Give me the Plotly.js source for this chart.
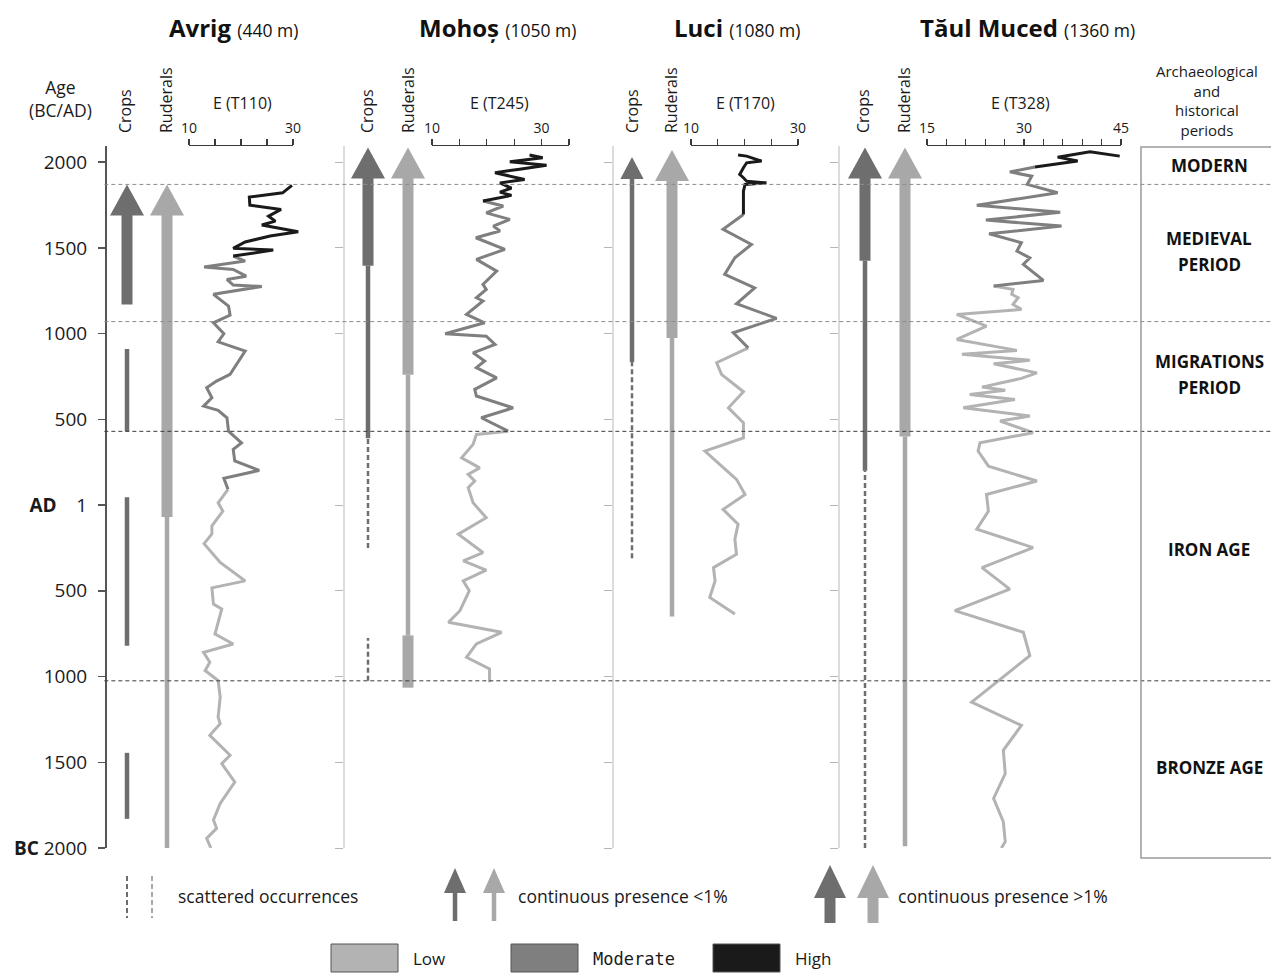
<!DOCTYPE html>
<html><head><meta charset="utf-8">
<script src="https://cdn.plot.ly/plotly-3.0.1.min.js"></script>
<style>html,body{margin:0;padding:0;background:#fff}#chart{width:1271px;height:973px}</style>
</head><body><div id="chart"></div>
<script>
// ================= DATA =================
const siteNames = ['Avrig', 'Mohoș', 'Luci', 'Tăul Muced'];
const siteAltitudes = ['(440 m)', '(1050 m)', '(1080 m)', '(1360 m)'];
const eAxisTitles = ['E (T110)', 'E (T245)', 'E (T170)', 'E (T328)'];
const eScaleRanges = [[10, 30], [10, 35], [10, 30], [15, 45]];
const eScaleSteps = [5, 5, 5, 3];
const eScaleLabels = [[10, 30], [10, 30], [10, 30], [15, 30, 45]];
const columnNames = ['Crops', 'Ruderals'];

const ageTickVals = [-2000, -1500, -1000, -500, 0, 500, 1000, 1500, 2000];
const ageTickText = ['<b>BC</b> 2000', '1500', '1000', '500', '<b>AD</b>\u00a0\u00a0\u00a0\u00a01', '500', '1000', '1500', '2000'];
const periodBoundaries = [1870, 1070, 430, -1025];
const periodNames = [['MODERN'], ['MEDIEVAL', 'PERIOD'], ['MIGRATIONS', 'PERIOD'], ['IRON AGE'], ['BRONZE AGE']];
const levelNames = ['Low', 'Moderate', 'High'];

// ---- Avrig E (T110) ----
const avrigHighAge = [1864, 1821, 1796, 1749, 1724, 1685, 1656, 1633, 1594, 1569, 1534, 1497, 1487, 1452];
const avrigHighE   = [29.8, 28.0, 21.6, 21.7, 27.7, 25.3, 26.6, 24.0, 31.0, 25.6, 20.8, 18.5, 26.2, 18.5];
const avrigModAge = [1452, 1423, 1388, 1374, 1335, 1316, 1283, 1275, 1229, 1160, 1108, 1063, 999, 952, 898, 762, 723, 684, 626, 577, 552, 509, 431, 363, 325, 257, 202, 156, 92];
const avrigModE   = [18.5, 20.8, 12.9, 18.5, 21.0, 17.3, 18.5, 24.0, 14.7, 17.6, 17.9, 14.7, 16.7, 15.6, 20.8, 17.9, 15.3, 13.4, 14.4, 12.8, 15.6, 17.3, 17.6, 20.1, 18.5, 18.8, 23.5, 16.7, 17.5];
const avrigLowAge = [92, 13, -35, -122, -169, -225, -335, -442, -483, -577, -606, -694, -752, -810, -859, -917, -965, -1023, -1120, -1237, -1275, -1343, -1459, -1508, -1615, -1740, -1837, -1885, -1944, -2000];
const avrigLowE   = [17.5, 15.6, 16.5, 14.4, 14.4, 12.9, 16.0, 20.8, 14.4, 14.7, 16.3, 15.6, 15.0, 18.5, 12.8, 14.0, 13.1, 15.6, 16.0, 15.6, 16.0, 14.0, 17.9, 16.3, 18.8, 16.0, 14.7, 15.3, 13.4, 14.2];

// ---- Mohoș E (T245) ----
const mohosHighAge = [2041, 2025, 2002, 1982, 1959, 1938, 1899, 1879, 1848, 1825, 1806, 1773];
const mohosHighE   = [27.8, 30.2, 24.2, 30.9, 26.0, 21.5, 26.9, 22.4, 24.5, 22.4, 24.5, 19.3];
const mohosModAge = [1773, 1744, 1704, 1666, 1627, 1598, 1559, 1491, 1433, 1364, 1287, 1258, 1209, 1190, 1112, 1063, 999, 985, 937, 888, 840, 801, 742, 675, 636, 567, 509, 431];
const mohosModE   = [19.3, 23.0, 19.9, 24.2, 21.2, 22.4, 18.0, 23.3, 18.1, 21.8, 19.3, 19.9, 18.1, 19.3, 16.3, 19.6, 12.4, 19.9, 21.5, 17.5, 19.6, 18.1, 21.8, 17.8, 18.1, 24.8, 19.0, 23.9];
const mohosLowAge = [431, 412, 354, 276, 217, 179, 140, 101, 13, -74, -170, -277, -326, -380, -442, -500, -616, -684, -742, -810, -888, -955, -1033];
const mohosLowE   = [23.9, 18.1, 17.5, 15.4, 18.7, 16.6, 17.8, 16.6, 17.5, 19.9, 14.8, 19.3, 15.7, 19.9, 15.7, 16.8, 15.1, 13.0, 22.7, 18.1, 16.3, 20.5, 20.5];

// ---- Luci E (T170) ----
const luciHighAge = [2041, 2035, 2006, 1996, 1967, 1928, 1909, 1889, 1879, 1870, 1831, 1695];
const luciHighE   = [18.8, 20.4, 23.2, 20.4, 19.8, 19.1, 19.8, 20.4, 24.1, 20.1, 19.8, 19.8];
const luciModAge = [1695, 1608, 1520, 1442, 1345, 1267, 1174, 1089, 1005, 917];
const luciModE   = [19.8, 16.0, 21.3, 18.2, 16.3, 21.9, 18.5, 26.0, 17.9, 20.7];
const luciLowAge = [917, 830, 762, 661, 567, 480, 392, 315, 150, 62, -25, -112, -199, -287, -365, -442, -539, -636];
const luciLowE   = [20.7, 14.8, 15.7, 19.8, 17.0, 19.8, 19.8, 12.6, 18.5, 20.1, 16.0, 18.8, 18.2, 18.5, 14.2, 14.5, 13.5, 18.2];

// ---- Tăul Muced E (T328) ----
const taulHighAge = [2035, 2061, 2029, 2006, 1971];
const taulHighE   = [44.8, 40.2, 35.2, 38.3, 31.7];
const taulModAge = [1971, 1943, 1918, 1870, 1821, 1749, 1708, 1662, 1627, 1582, 1530, 1481, 1442, 1404, 1310, 1277];
const taulModE   = [31.7, 27.8, 31.2, 30.5, 35.2, 22.7, 35.6, 24.1, 35.8, 24.6, 29.6, 28.9, 30.9, 29.9, 33.0, 25.3];
const taulLowAge = [1277, 1258, 1229, 1209, 1170, 1141, 1112, 1044, 966, 902, 879, 844, 824, 771, 739, 688, 669, 645, 616, 567, 519, 490, 422, 363, 315, 227, 140, 62, -35, -141, -248, -365, -490, -616, -742, -878, -1149, -1285, -1430, -1566, -1711, -1847, -1963, -2000];
const taulLowE   = [25.3, 28.3, 28.1, 29.1, 28.3, 29.6, 19.6, 24.2, 19.6, 28.9, 20.4, 30.9, 25.3, 32.0, 29.6, 23.5, 27.1, 21.6, 28.6, 20.6, 30.9, 26.3, 31.4, 23.2, 22.9, 24.5, 32.0, 24.2, 24.5, 22.7, 31.4, 23.5, 27.8, 19.3, 29.9, 30.9, 21.9, 29.6, 26.8, 27.1, 25.3, 26.8, 27.1, 26.5];

// ---- Crops / Ruderals presence, [from, to] in years (AD +, BC -) ----
const avrigCropsOver1 = [[1170, 1870]];
const avrigCropsUnder1 = [[430, 910], [-820, 45], [-1830, -1445]];
const avrigCropsScattered = [];
const avrigRuderalsOver1 = [[-70, 1870]];
const avrigRuderalsUnder1 = [[-2000, -70]];
const avrigRuderalsScattered = [];

const mohosCropsOver1 = [[1395, 2085]];
const mohosCropsUnder1 = [[390, 1395]];
const mohosCropsScattered = [[-250, 390], [-1025, -775]];
const mohosRuderalsOver1 = [[760, 2085], [-1065, -760]];
const mohosRuderalsUnder1 = [[-760, 760]];
const mohosRuderalsScattered = [];

const luciCropsOver1 = [];
const luciCropsUnder1 = [[835, 2030]];
const luciCropsScattered = [[-310, 835]];
const luciRuderalsOver1 = [[975, 2070]];
const luciRuderalsUnder1 = [[-650, 975]];
const luciRuderalsScattered = [];

const taulCropsOver1 = [[1425, 2085]];
const taulCropsUnder1 = [[200, 1425]];
const taulCropsScattered = [[-2000, 200]];
const taulRuderalsOver1 = [[400, 2085]];
const taulRuderalsUnder1 = [[-1990, 400]];
const taulRuderalsScattered = [];

// ================= BUILD =================
const siteE = [
  {low: [avrigLowAge, avrigLowE], mod: [avrigModAge, avrigModE], high: [avrigHighAge, avrigHighE]},
  {low: [mohosLowAge, mohosLowE], mod: [mohosModAge, mohosModE], high: [mohosHighAge, mohosHighE]},
  {low: [luciLowAge, luciLowE], mod: [luciModAge, luciModE], high: [luciHighAge, luciHighE]},
  {low: [taulLowAge, taulLowE], mod: [taulModAge, taulModE], high: [taulHighAge, taulHighE]}
];
const sitePresence = [
  [[avrigCropsOver1, avrigCropsUnder1, avrigCropsScattered], [avrigRuderalsOver1, avrigRuderalsUnder1, avrigRuderalsScattered]],
  [[mohosCropsOver1, mohosCropsUnder1, mohosCropsScattered], [mohosRuderalsOver1, mohosRuderalsUnder1, mohosRuderalsScattered]],
  [[luciCropsOver1, luciCropsUnder1, luciCropsScattered], [luciRuderalsOver1, luciRuderalsUnder1, luciRuderalsScattered]],
  [[taulCropsOver1, taulCropsUnder1, taulCropsScattered], [taulRuderalsOver1, taulRuderalsUnder1, taulRuderalsScattered]]
];

// ---- layout geometry (pixels) ----
const FONT = '"Open Sans", "Noto Sans", sans-serif';
const L = 102, R = 1271, T = 146, B = 848;
const PW = R - L, PH = B - T;
const X = px => (px - L) / PW;
const Y = py => (B - py) / PH;
const yRange = [-2000, 2094];
const yrPerPx = (yRange[1] - yRange[0]) / PH;

const cropPx = [127, 368, 632, 865];
const colGap = 40;
const scalePx = [[189, 293], [432, 569], [691, 798], [927, 1121]];
const sepPx = [343, 612, 838];
const titlePx = [233, 497, 737, 1027];
const eLabelPx = [242, 499, 745, 1020];
const colLabelPx = [[125, 166], [367, 408], [632, 671], [863, 904]];

const colColors = ['#6e6e6e', '#a8a8a8'];
const levelColors = {low: '#b3b3b3', mod: '#7f7f7f', high: '#1a1a1a'};
const styleWidth = [11, 4.5, 2.5];
const headHalfW = [0.425, 0.29];          // in column units (40 px = 1)
const headH = [31 * yrPerPx, 22 * yrPerPx]; // in years

const traces = [];
const layout = {
  width: 1271, height: 973,
  margin: {l: L, r: 1271 - R, t: T, b: 973 - B, pad: 0},
  paper_bgcolor: '#ffffff', plot_bgcolor: 'rgba(0,0,0,0)',
  showlegend: false,
  font: {family: FONT, color: '#1a1a1a'},
  shapes: [], annotations: [],
  yaxis: {
    range: yRange, domain: [0, 1], showline: true, linecolor: '#555', linewidth: 2,
    ticks: 'outside', ticklen: 7, tickwidth: 1.5, tickcolor: '#555', ticklabelstandoff: 7,
    tickvals: ageTickVals, ticktext: ageTickText, tickfont: {size: 19, color: '#1a1a1a', family: FONT},
    showgrid: false, zeroline: false, fixedrange: true
  }
};

// separator axes
sepPx.forEach((sx, k) => {
  const name = 'yaxis' + (k + 2);
  layout[name] = {
    overlaying: 'y', anchor: 'free', position: X(sx), side: 'left', range: yRange,
    showline: true, linecolor: '#dcdcdc', linewidth: 1.5, ticks: 'outside', ticklen: 8, tickwidth: 1,
    tickcolor: '#b5b5b5', tickvals: ageTickVals, showticklabels: false, showgrid: false, zeroline: false
  };
  traces.push({x: [null], y: [null], xaxis: 'x', yaxis: 'y' + (k + 2), mode: 'lines', hoverinfo: 'skip', showlegend: false});
});

const axKey = n => n === 1 ? 'xaxis' : 'xaxis' + n;
const axRef = n => n === 1 ? 'x' : 'x' + n;

siteNames.forEach((site, i) => {
  const nA = 3 * i + 1, nD = 3 * i + 2, nS = 3 * i + 3;
  const c = cropPx[i];
  layout[axKey(nA)] = {visible: false, domain: [X(c - colGap / 2), X(c + colGap * 1.5)], range: [-0.5, 1.5], anchor: 'y', fixedrange: true};
  const [lo, hi] = eScaleRanges[i];
  const [p0, p1] = scalePx[i];
  const ppu = (p1 - p0) / (hi - lo);
  const pad = 6;
  layout[axKey(nD)] = {visible: false, domain: [X(p0 - pad * ppu), X(p1 + pad * ppu)], range: [lo - pad, hi + pad], anchor: 'y', fixedrange: true};
  const tv = [];
  for (let v = lo; v <= hi + 1e-9; v += eScaleSteps[i]) tv.push(v);
  layout[axKey(nS)] = {
    domain: [X(p0), X(p1)], range: [lo, hi], side: 'top', anchor: 'y',
    showline: true, linecolor: '#3a3a3a', linewidth: 1.5, ticks: 'outside', ticklen: 6, tickwidth: 1.2, tickcolor: '#3a3a3a',
    tickvals: tv, ticktext: tv.map(v => eScaleLabels[i].includes(v) ? String(v) : ''),
    tickfont: {size: 14, color: '#1a1a1a', family: FONT}, showgrid: false, zeroline: false, fixedrange: true
  };
  traces.push({x: [lo, hi], y: [null, null], xaxis: axRef(nS), yaxis: 'y', mode: 'lines', hoverinfo: 'skip', showlegend: false});

  // presence columns
  sitePresence[i].forEach((styles, j) => {
    const color = colColors[j];
    let top = -Infinity, topStyle = 0;
    styles.forEach((segs, s) => segs.forEach(([a, b]) => { if (b > top) { top = b; topStyle = s; } }));
    styles.forEach((segs, s) => {
      segs.forEach(([a, b]) => {
        const yEnd = (b === top && s === topStyle) ? b - headH[s] * 0.6 : b;
        traces.push({
          x: [j, j], y: [a, yEnd], xaxis: axRef(nA), yaxis: 'y', mode: 'lines',
          line: {color: color, width: styleWidth[s], dash: s === 2 ? '5px,3px' : 'solid'},
          hoverinfo: 'skip', showlegend: false, name: columnNames[j]
        });
      });
    });
    if (top > -Infinity && topStyle < 2) {
      const hw = headHalfW[topStyle], hh = headH[topStyle];
      traces.push({
        x: [j - hw, j, j + hw, j - hw], y: [top - hh, top, top - hh, top - hh],
        xaxis: axRef(nA), yaxis: 'y', mode: 'lines', fill: 'toself', fillcolor: color,
        line: {width: 0, color: color}, hoverinfo: 'skip', showlegend: false
      });
    }
  });

  // E curves
  ['low', 'mod', 'high'].forEach(lv => {
    const [ages, vals] = siteE[i][lv];
    traces.push({
      x: vals, y: ages, xaxis: axRef(nD), yaxis: 'y', mode: 'lines',
      line: {color: levelColors[lv], width: 3, shape: 'linear'}, hoverinfo: 'skip', showlegend: false
    });
  });

  // headers
  layout.annotations.push({
    xref: 'paper', yref: 'paper', x: X(titlePx[i]), y: Y(27), xanchor: 'center', yanchor: 'middle', showarrow: false,
    text: '<b>' + site + '</b> <span style="font-size:17.5px">' + siteAltitudes[i] + '</span>',
    font: {size: 24, color: '#111', family: FONT}
  });
  layout.annotations.push({
    xref: 'paper', yref: 'paper', x: X(eLabelPx[i]), y: Y(103), xanchor: 'center', yanchor: 'middle', showarrow: false,
    text: eAxisTitles[i], font: {size: 16, color: '#1a1a1a', family: FONT}
  });
  columnNames.forEach((cn, j) => {
    layout.annotations.push({
      xref: 'paper', yref: 'paper', x: X(colLabelPx[i][j]), y: Y(135), xanchor: 'center', yanchor: 'bottom', showarrow: false,
      text: cn, textangle: -90, font: {size: 16, color: '#1a1a1a', family: FONT}
    });
  });
});

// period boundaries
periodBoundaries.forEach((b, k) => {
  layout.shapes.push({
    type: 'line', xref: 'paper', yref: 'y', x0: 0.002, x1: 1, y0: b, y1: b,
    line: {color: k < 2 ? '#8c8c8c' : '#3c3c3c', width: 1, dash: '4px,3px'}
  });
});
layout.shapes.push({type: 'rect', xref: 'paper', yref: 'paper', x0: X(1141), x1: X(1300), y0: Y(858), y1: Y(147),
  line: {color: '#9a9a9a', width: 1.5}, fillcolor: 'rgba(0,0,0,0)'});
const periodLinePx = [[166], [238, 264], [361, 387], [549], [767]];
periodNames.forEach((lines, k) => {
  lines.forEach((t, m) => {
    layout.annotations.push({
      xref: 'paper', yref: 'paper', x: X(1209), y: Y(periodLinePx[k][m]), xanchor: 'center', yanchor: 'middle',
      showarrow: false, text: '<b>' + t + '</b>', font: {size: 17, color: '#111', family: FONT}
    });
  });
});
layout.annotations.push({
  xref: 'paper', yref: 'paper', x: X(1207), y: Y(100), xanchor: 'center', yanchor: 'middle',
  showarrow: false, text: 'Archaeological<br>and<br>historical<br>periods', font: {size: 15, color: '#1a1a1a', family: FONT}
});
layout.annotations.push({
  xref: 'paper', yref: 'paper', x: X(60), y: Y(98), xanchor: 'center', yanchor: 'middle',
  showarrow: false, text: 'Age<br>(BC/AD)', font: {size: 17.5, color: '#1a1a1a', family: FONT}
});

// ---- bottom key ----
function vline(px, y0, y1, color, width, dash) {
  layout.shapes.push({type: 'line', xref: 'paper', yref: 'paper', x0: X(px), x1: X(px), y0: Y(y0), y1: Y(y1),
    line: {color: color, width: width, dash: dash || 'solid'}});
}
function head(px, tip, base, hw, color) {
  layout.shapes.push({type: 'path', xref: 'paper', yref: 'paper',
    path: 'M' + X(px - hw) + ',' + Y(base) + ' L' + X(px) + ',' + Y(tip) + ' L' + X(px + hw) + ',' + Y(base) + ' Z',
    fillcolor: color, line: {width: 0}});
}
function keyText(px, py, t, size, fam) {
  layout.annotations.push({xref: 'paper', yref: 'paper', x: X(px), y: Y(py), xanchor: 'left', yanchor: 'middle',
    showarrow: false, text: t, font: {size: size || 17, color: '#1a1a1a', family: fam || FONT}});
}
vline(127, 876, 918, colColors[0], 2, '5px,3px');
vline(152, 876, 918, colColors[1], 2, '5px,3px');
keyText(176, 896, 'scattered occurrences', 17.5);
vline(455, 921, 888, colColors[0], 4.5); head(455, 868, 893, 11, colColors[0]);
vline(494, 921, 888, colColors[1], 4.5); head(494, 868, 893, 11, colColors[1]);
keyText(516, 896, 'continuous presence &lt;1%', 17.5);
vline(830, 923, 893, colColors[0], 11); head(830, 865, 898, 16, colColors[0]);
vline(873, 923, 893, colColors[1], 11); head(873, 865, 898, 16, colColors[1]);
keyText(896, 896, 'continuous presence &gt;1%', 17.5);
const keyBoxPx = [331, 511, 713];
const keyTextFonts = [FONT, '"DejaVu Sans Mono", monospace', FONT];
['low', 'mod', 'high'].forEach((lv, k) => {
  layout.shapes.push({type: 'rect', xref: 'paper', yref: 'paper', x0: X(keyBoxPx[k]), x1: X(keyBoxPx[k] + 67),
    y0: Y(972), y1: Y(944), fillcolor: levelColors[lv], line: {color: '#555', width: 1}});
  keyText(keyBoxPx[k] + 80, 959, levelNames[k], 17, keyTextFonts[k]);
});

Plotly.newPlot('chart', traces, layout, {staticPlot: true, displayModeBar: false});
</script>
</body></html>
